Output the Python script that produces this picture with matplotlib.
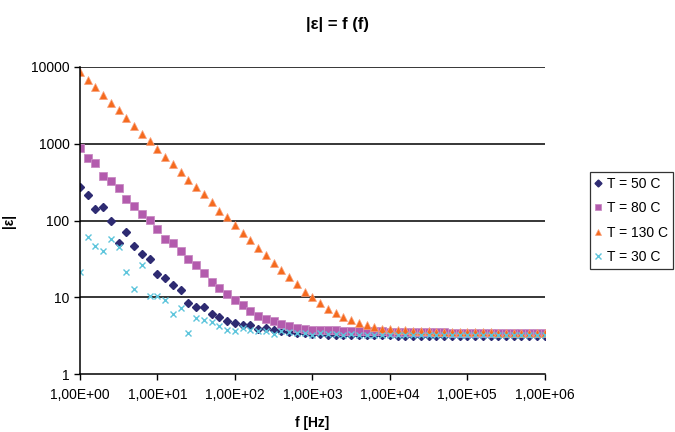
import matplotlib
matplotlib.use("Agg")
import matplotlib.pyplot as plt

plt.rcParams['font.family'] = ['Liberation Sans', 'DejaVu Sans']

# measurement frequencies [Hz], 10 points per decade
freq = [1.00, 1.26, 1.58, 2.00, 2.51, 3.16, 3.98, 5.01, 6.31, 7.94,
        10.0, 12.6, 15.8, 20.0, 25.1, 31.6, 39.8, 50.1, 63.1, 79.4,
        100, 126, 158, 200, 251, 316, 398, 501, 631, 794,
        1.00e3, 1.26e3, 1.58e3, 2.00e3, 2.51e3, 3.16e3, 3.98e3, 5.01e3, 6.31e3, 7.94e3,
        1.00e4, 1.26e4, 1.58e4, 2.00e4, 2.51e4, 3.16e4, 3.98e4, 5.01e4, 6.31e4, 7.94e4,
        1.00e5, 1.26e5, 1.58e5, 2.00e5, 2.51e5, 3.16e5, 3.98e5, 5.01e5, 6.31e5, 7.94e5,
        1.00e6]

eps_50 = [275, 218, 140, 150, 99, 51, 71, 47, 37, 32,
          20, 17.6, 14.4, 12.6, 8.4, 7.5, 7.4, 6.0, 5.6, 4.95,
          4.6, 4.35, 4.35, 3.85, 3.95, 3.75, 3.6, 3.57, 3.4, 3.39,
          3.33, 3.28, 3.26, 3.24, 3.22, 3.22, 3.21, 3.2, 3.2, 3.19,
          3.19, 3.18, 3.18, 3.18, 3.17, 3.17, 3.17, 3.17, 3.16, 3.16,
          3.16, 3.16, 3.16, 3.15, 3.15, 3.15, 3.15, 3.15, 3.15, 3.14, 3.14]

eps_80 = [887, 656, 565, 375, 326, 267, 190, 154, 120, 101,
          77, 58, 51, 40, 31.6, 26.2, 20.5, 15.7, 13.2, 11.0,
          9.3, 7.95, 6.6, 5.77, 5.2, 4.86, 4.45, 4.17, 4.0, 3.88,
          3.79, 3.75, 3.7, 3.7, 3.68, 3.67, 3.65, 3.63, 3.62, 3.6,
          3.58, 3.57, 3.55, 3.54, 3.52, 3.51, 3.5, 3.49, 3.48, 3.47,
          3.46, 3.45, 3.44, 3.43, 3.42, 3.42, 3.41, 3.4, 3.4, 3.39, 3.39]

eps_130 = [8500, 6700, 5480, 4310, 3390, 2720, 2140, 1700, 1350, 1080,
           860, 670, 537, 427, 339, 270, 223, 173, 135, 110,
           87, 68, 56, 44, 36, 28, 22.7, 18.2, 14.9, 11.9,
           10.0, 8.4, 7.05, 6.2, 5.6, 5.0, 4.6, 4.35, 4.1, 3.92,
           3.82, 3.75, 3.7, 3.66, 3.63, 3.6, 3.58, 3.56, 3.54, 3.53,
           3.52, 3.51, 3.5, 3.49, 3.48, 3.48, 3.47, 3.47, 3.46, 3.46, 3.45]

eps_30 = [21.4, 61, 47, 40.6, 57, 45.4, 21.4, 13.0, 26, 10.3,
          10.3, 9.3, 6.1, 7.3, 3.45, 5.4, 5.1, 4.75, 4.27, 3.8,
          3.67, 3.98, 3.78, 3.67, 3.67, 3.33, 3.67, 3.5, 3.39, 3.39,
          3.27, 3.39, 3.3, 3.28, 3.26, 3.3, 3.25, 3.27, 3.24, 3.25,
          3.24, 3.23, 3.24, 3.23, 3.22, 3.23, 3.22, 3.22, 3.21, 3.22,
          3.21, 3.21, 3.2, 3.21, 3.2, 3.2, 3.2, 3.2, 3.19, 3.2, 3.19]

x_ticks = [1e0, 1e1, 1e2, 1e3, 1e4, 1e5, 1e6]
x_labels = ['1,00E+00', '1,00E+01', '1,00E+02', '1,00E+03', '1,00E+04', '1,00E+05', '1,00E+06']
y_ticks = [1, 10, 100, 1000, 10000]
y_labels = ['1', '10', '100', '1000', '10000']

fig = plt.figure(figsize=(6.75, 4.32), dpi=100)
ax = fig.add_axes([0.1185, 0.134, 0.6885, 0.711])

ax.plot(freq, eps_50, ls='none', marker='D', ms=4.4, color='#2e2b72', mec='#2e2b72', label='T = 50 C')
ax.plot(freq, eps_80, ls='none', marker='s', ms=5.2, color='#b35bad', mec='#c98cc4', mew=0.6, label='T = 80 C')
ax.plot(freq, eps_130, ls='none', marker='^', ms=5.5, color='#f56a1e', mec='#f9a07a', mew=0.5, label='T = 130 C')
ax.plot(freq, eps_30, ls='none', marker='x', ms=4.6, mew=1.0, color='#5ec5dc', label='T = 30 C')

ax.set_xscale('log')
ax.set_yscale('log')
ax.set_xlim(1, 1e6)
ax.set_ylim(1, 10000)
ax.set_xticks(x_ticks)
ax.set_xticklabels(x_labels)
ax.set_yticks(y_ticks)
ax.set_yticklabels(y_labels)
ax.minorticks_off()
ax.tick_params(axis='both', labelsize=10, length=4, width=1, color='black', direction='out')
ax.tick_params(axis='x', pad=6)

for yv in y_ticks[1:]:
    ax.axhline(yv, color='black', lw=1.1, zorder=0)

ax.spines['top'].set_visible(False)
ax.spines['right'].set_visible(False)
ax.spines['left'].set_linewidth(1.1)
ax.spines['bottom'].set_linewidth(1.1)

ax.set_xlabel('f [Hz]', fontsize=10, fontweight='bold', labelpad=10)
ax.set_ylabel('|ε|', fontsize=10, fontweight='bold', labelpad=11)
fig.text(0.5, 0.944, '|ε| = f (f)', ha='center', va='center', fontsize=12, fontweight='bold')

# legend box: right edge at x=673 px, top at y=172 px
leg = fig.legend(loc='upper right', bbox_to_anchor=(673 / 675, 1 - 172 / 432), frameon=True, fancybox=False,
                 fontsize=10, handlelength=0.5, handletextpad=0.4, borderpad=0.35,
                 labelspacing=0.75, borderaxespad=0, markerscale=0.8)
leg.get_frame().set_edgecolor('black')
leg.get_frame().set_linewidth(0.9)

fig.savefig('out.png', dpi=100)
